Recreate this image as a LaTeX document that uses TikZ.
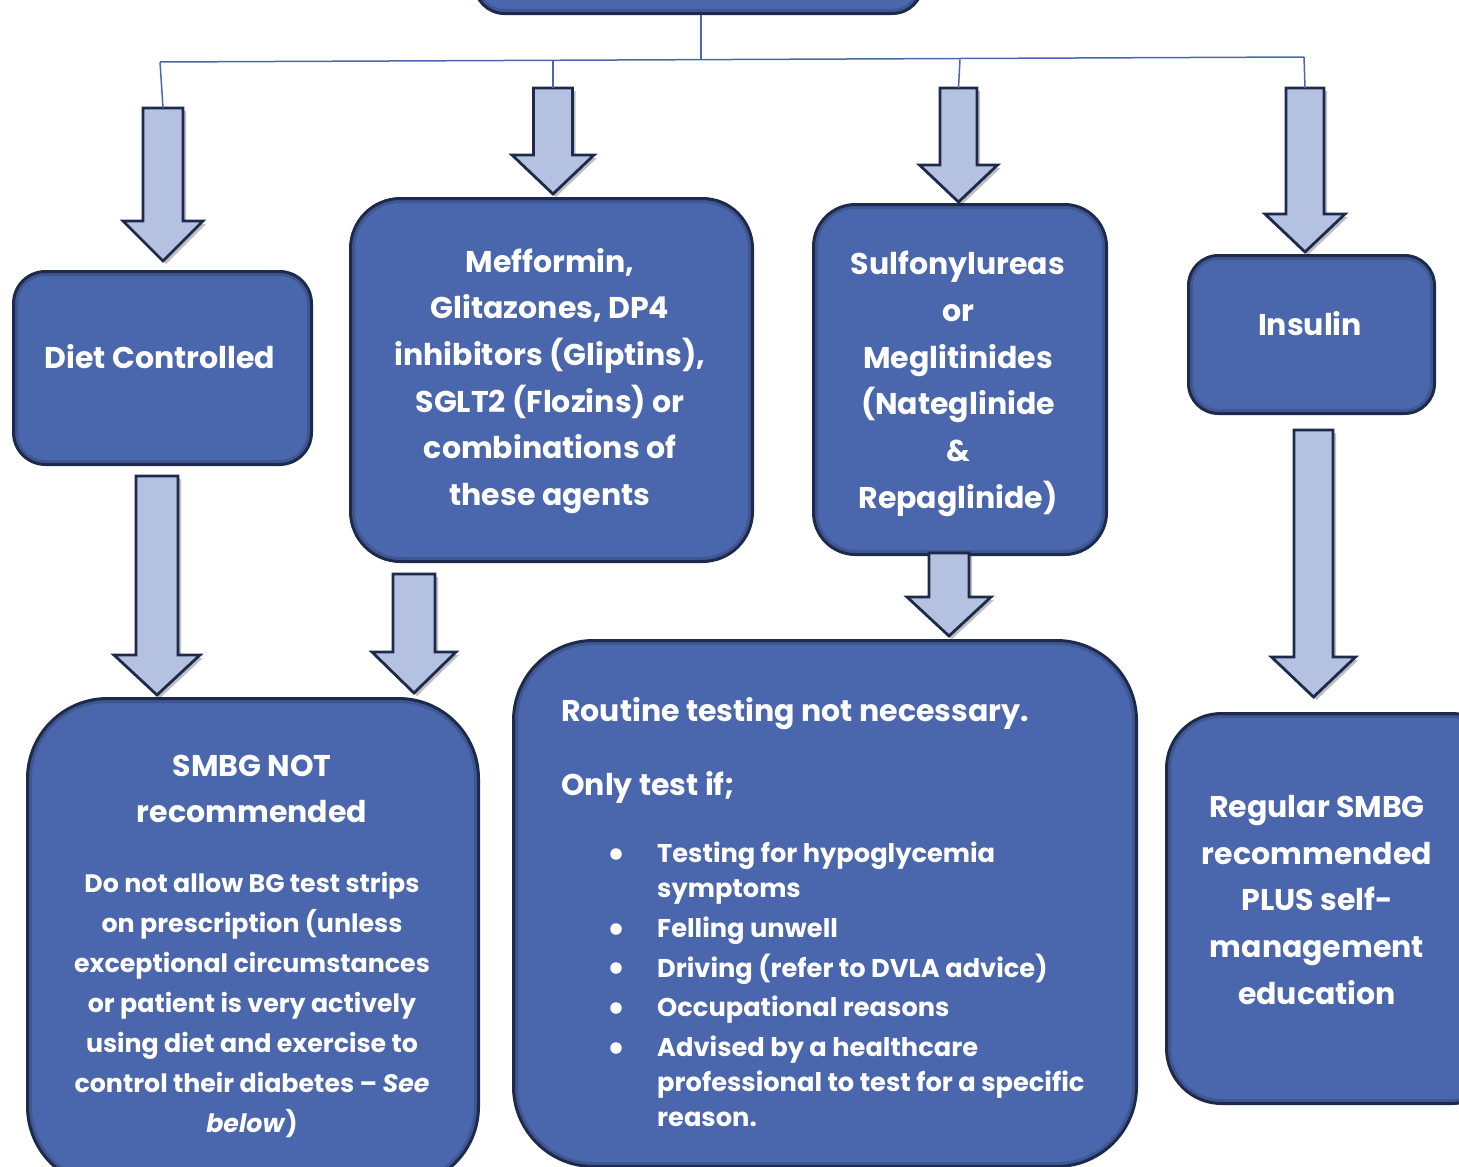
\documentclass[tikz,border=0pt]{standalone}
\usepackage{fontspec}
\setmainfont{Poppins}
\usetikzlibrary{shadows}
\definecolor{boxblue}{HTML}{4A66AC}
\definecolor{edgenavy}{HTML}{1E2A4C}
\definecolor{arrowfill}{HTML}{B4C1E0}
\definecolor{linkblue}{HTML}{4A67B0}
\newcommand{\BArrow}[7]{% name, cx, top, headbase, tip, shaft half, head half
  \coordinate (#1-top) at (#2,#3);
  \coordinate (#1-tip) at (#2,#5);
  \draw[barrow] (#2-#6,#3) -- (#2+#6,#3) -- (#2+#6,#4) -- (#2+#7,#4) -- (#2,#5)
     -- (#2-#7,#4) -- (#2-#6,#4) -- cycle;}
\begin{document}
\begin{tikzpicture}[x=1pt,y=-1pt,
  box/.style={draw=edgenavy, fill=boxblue, line width=3pt, inner sep=0pt, rounded corners=#1,
     path picture={\draw[line width=9pt, draw=black, opacity=0.15, rounded corners=#1]
        (path picture bounding box.north west) rectangle (path picture bounding box.south east);}},
  barrow/.style={draw=edgenavy, fill=arrowfill, line width=2.8pt, line join=miter,
     drop shadow={shadow xshift=3pt, shadow yshift=-3pt, opacity=0.25, fill=black}},
  link/.style={draw=linkblue, line width=1.5pt},
  lbl/.style={text=white, font=\bfseries\fontsize{30}{46.7}\selectfont, align=center, inner sep=0pt},
  small/.style={text=white, font=\bfseries\fontsize{25.3}{40}\selectfont, align=center, inner sep=0pt},
  bul/.style={text=white, font=\bfseries\fontsize{25.7}{35}\selectfont, align=left, inner sep=0pt, anchor=west},
  dot/.style={circle, fill=white, inner sep=0pt, minimum size=11.5pt},
]
\useasboundingbox (0,0) rectangle (1459,1167);
\clip (0,0) rectangle (1459,1167);

% boxes
\node[box=30, minimum width=448, minimum height=90, anchor=south west] (top) at (473,15) {};
\node[box=32, minimum width=298, minimum height=193, anchor=north west] (diet) at (12,270) {};
\node[box=50, minimum width=402, minimum height=363, anchor=north west] (mef) at (349,197) {};
\node[box=42, minimum width=293, minimum height=350, anchor=north west] (sulf) at (812,203) {};
\node[box=30, minimum width=246, minimum height=158, anchor=north west] (ins) at (1187,254) {};
\node[box=80, minimum width=451, minimum height=488, anchor=north west] (smbg) at (26,697) {};
\node[box=80, minimum width=623, minimum height=526, anchor=north west] (routine) at (512,639) {};
\node[box=55, minimum width=340, minimum height=390, anchor=north west] (regular) at (1165,712) {};

% connector lines
\coordinate (hubL) at (160,62);
\coordinate (hubM) at (701,60.1);
\coordinate (hubR) at (1304,57);
\draw[link] (top.south -| hubM) -- (hubM);
\draw[link] (hubL) -- (hubR);

% block arrows
\BArrow{a1}{163}{108}{221}{261}{20}{40}
\BArrow{a2}{553}{88}{155}{194}{19.5}{41}
\BArrow{a3}{958.5}{88}{165}{202}{18.5}{39}
\BArrow{a4}{1305}{88}{214}{252}{19}{40}
\BArrow{a5}{157}{476}{655}{695}{21}{43}
\BArrow{a6}{414}{574}{652}{693}{21}{42}
\BArrow{a7}{949}{553}{597}{636}{20}{42}
\BArrow{a8}{1313.5}{430}{657}{697}{19.5}{42}

\draw[link] (hubL) -- (a1-top);
\draw[link] (553,60.3) -- (a2-top);
\draw[link] (960,59.3) -- (a3-top);
\draw[link] (hubR) -- (a4-top);

% labels
\node[lbl] (dietT) at (160,357) {Diet Controlled};
\node[lbl] (mefT) at (550,381) {Mefformin,\\Glitazones, DP4\\inhibitors (Gliptins),\\SGLT2 (Flozins) or\\combinations of\\these agents};
\node[lbl] (sulfT) at (958,384) {Sulfonylureas\\or\\Meglitinides\\(Nateglinide\\\&\\Repaglinide)};
\node[lbl] (insT) at (1310,324) {Insulin};
\node[lbl] (smbgH) at (252,789) {SMBG NOT\\recommended};
\node[small] (smbgB) at (252,1005) {Do not allow BG test strips\\on prescription (unless\\exceptional circumstances\\or patient is very actively\\using diet and exercise to\\control their diabetes -- \textit{See}\\\textit{below})};
\node[lbl] (regT) at (1317,900) {Regular SMBG\\recommended\\PLUS self-\\management\\education};

\node[lbl, anchor=west] (r1) at (561,714) {Routine testing not necessary.};
\node[lbl, anchor=west] (r2) at (561,787) {Only test if;};

\node[dot] (d1) at (616,854) {};
\node[dot] (d2) at (616,929) {};
\node[dot] (d3) at (616,968) {};
\node[dot] (d4) at (616,1008) {};
\node[dot] (d5) at (616,1048) {};
\node[bul] (b1) at (657,873) {Testing for hypoglycemia\\symptoms};
\node[bul] (b2) at (657,931) {Felling unwell};
\node[bul] (b3) at (657,969) {Driving (refer to DVLA advice)};
\node[bul] (b4) at (657,1010) {Occupational reasons};
\node[bul] (b5) at (657,1081.5) {Advised by a healthcare\\professional to test for a specific\\reason.};
\end{tikzpicture}
\end{document}
